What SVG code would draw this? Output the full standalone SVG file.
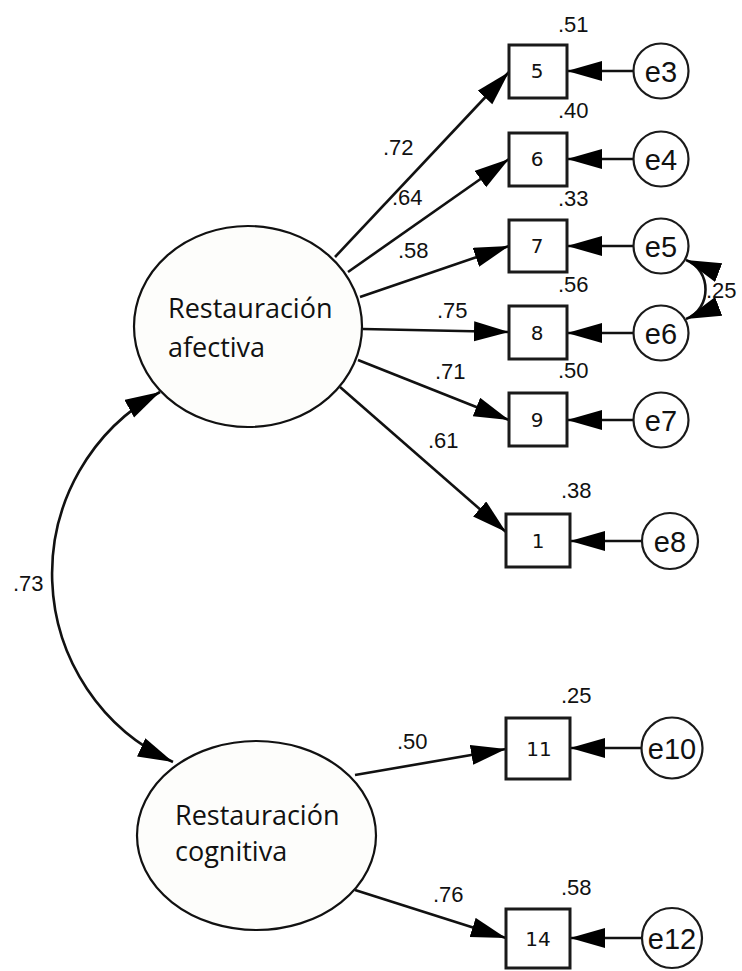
<svg xmlns="http://www.w3.org/2000/svg" width="742" height="971" viewBox="0 0 742 971">
  <style>
    .lat { fill: #fdfdfb; stroke: #111; stroke-width: 2.2; }
    .obs { fill: #fff; stroke: #1a1a1a; stroke-width: 3; }
    .err { fill: #fff; stroke: #1a1a1a; stroke-width: 2.2; }
    .path { fill: none; stroke: #111; stroke-width: 2.6; }
    .one { marker-end: url(#ah); }
    .two { marker-start: url(#ah2); marker-end: url(#ah2); }
    text { fill: #111; }
    .t-lat { font-family: "Open Sans", "Noto Sans", sans-serif; font-size: 27px; }
    .t-obs { font-family: "DejaVu Sans", Verdana, sans-serif; font-size: 20px; text-anchor: middle; }
    .t-err { font-family: "Liberation Sans", Arial, sans-serif; font-size: 29px; text-anchor: middle; }
    .t-num { font-family: "Liberation Sans", Arial, sans-serif; font-size: 22px; }
  </style>
  <defs>
    <marker id="ah" markerUnits="userSpaceOnUse" markerWidth="36" markerHeight="22" refX="35" refY="10" orient="auto">
      <path d="M0,0 L35,10 L0,20 z" fill="#000"/>
    </marker>
    <marker id="ah2" markerUnits="userSpaceOnUse" markerWidth="36" markerHeight="22" refX="35" refY="10" orient="auto-start-reverse">
      <path d="M0,0 L35,10 L0,20 z" fill="#000"/>
    </marker>
  </defs>

  <!-- paths, loadings and covariances -->
  <g id="connectors">
    <path class="path one" d="M335,257 L509,72"/>
    <path class="path one" d="M348,272 L509,159"/>
    <path class="path one" d="M360,297 L509,246"/>
    <path class="path one" d="M363,329 L509,332"/>
    <path class="path one" d="M358,360 L509,420"/>
    <path class="path one" d="M340,387 L506,532"/>
    <path class="path one" d="M355,775 L506,749"/>
    <path class="path one" d="M355,890 L506,938"/>

    <path class="path one" d="M633.5,71 L567,71"/>
    <path class="path one" d="M633.5,159 L567,159"/>
    <path class="path one" d="M633.5,246 L567,246"/>
    <path class="path one" d="M633.5,333 L567,333"/>
    <path class="path one" d="M633.5,420 L567,420"/>
    <path class="path one" d="M642,541 L570,541"/>
    <path class="path one" d="M641.5,748 L570,748"/>
    <path class="path one" d="M642,938 L570,938"/>

    <path class="path two" d="M160,392 A207,207 0 0 0 173,762"/>
    <path class="path two" d="M686,260 C712,270 712,309 686,319"/>

    <text class="t-num" x="383" y="155">.72</text>
    <text class="t-num" x="392" y="205">.64</text>
    <text class="t-num" x="398" y="258">.58</text>
    <text class="t-num" x="437" y="318">.75</text>
    <text class="t-num" x="435" y="379">.71</text>
    <text class="t-num" x="428" y="448">.61</text>
    <text class="t-num" x="397" y="749">.50</text>
    <text class="t-num" x="433" y="902">.76</text>
    <text class="t-num" x="13" y="591">.73</text>
    <text class="t-num" x="706" y="298">.25</text>
  </g>

  <!-- latent factors -->
  <g id="afectiva">
    <ellipse class="lat" cx="248" cy="326.5" rx="114" ry="100.5"/>
    <text class="t-lat" x="168" y="318">Restauración</text>
    <text class="t-lat" x="168" y="357">afectiva</text>
  </g>
  <g id="cognitiva">
    <ellipse class="lat" cx="256.5" cy="835.5" rx="119.5" ry="94.5"/>
    <text class="t-lat" x="175" y="825">Restauración</text>
    <text class="t-lat" x="175" y="861">cognitiva</text>
  </g>

  <!-- observed items with squared multiple correlations -->
  <g id="item5">
    <rect class="obs" x="509" y="45" width="58" height="53"/>
    <text class="t-obs" x="537" y="78">5</text>
    <text class="t-num" x="558" y="32">.51</text>
  </g>
  <g id="item6">
    <rect class="obs" x="509" y="133" width="58" height="53"/>
    <text class="t-obs" x="537" y="166">6</text>
    <text class="t-num" x="558" y="118">.40</text>
  </g>
  <g id="item7">
    <rect class="obs" x="509" y="220" width="58" height="52"/>
    <text class="t-obs" x="537" y="253">7</text>
    <text class="t-num" x="558" y="206">.33</text>
  </g>
  <g id="item8">
    <rect class="obs" x="509" y="306" width="58" height="53"/>
    <text class="t-obs" x="537" y="340">8</text>
    <text class="t-num" x="558" y="292">.56</text>
  </g>
  <g id="item9">
    <rect class="obs" x="509" y="393" width="58" height="53"/>
    <text class="t-obs" x="537" y="427">9</text>
    <text class="t-num" x="558" y="378">.50</text>
  </g>
  <g id="item1">
    <rect class="obs" x="506" y="514" width="64" height="53"/>
    <text class="t-obs" x="538" y="548">1</text>
    <text class="t-num" x="561" y="498">.38</text>
  </g>
  <g id="item11">
    <rect class="obs" x="506" y="718" width="64" height="61"/>
    <text class="t-obs" x="539" y="756">11</text>
    <text class="t-num" x="561" y="703">.25</text>
  </g>
  <g id="item14">
    <rect class="obs" x="506" y="909" width="64" height="59"/>
    <text class="t-obs" x="538" y="946">14</text>
    <text class="t-num" x="561" y="895">.58</text>
  </g>

  <!-- residual terms -->
  <g id="e3"><circle class="err" cx="661" cy="71" r="27.5"/><text class="t-err" x="661" y="81.5">e3</text></g>
  <g id="e4"><circle class="err" cx="661" cy="159" r="27.5"/><text class="t-err" x="661" y="169.5">e4</text></g>
  <g id="e5"><circle class="err" cx="661" cy="246" r="27.5"/><text class="t-err" x="661" y="256.5">e5</text></g>
  <g id="e6"><circle class="err" cx="661" cy="333" r="27.5"/><text class="t-err" x="661" y="343.5">e6</text></g>
  <g id="e7"><circle class="err" cx="661" cy="420" r="27.5"/><text class="t-err" x="661" y="430.5">e7</text></g>
  <g id="e8"><circle class="err" cx="670" cy="541" r="28"/><text class="t-err" x="670" y="551.5">e8</text></g>
  <g id="e10"><circle class="err" cx="672" cy="748" r="30.5"/><text class="t-err" x="672" y="758.5">e10</text></g>
  <g id="e12"><circle class="err" cx="672" cy="938" r="30"/><text class="t-err" x="672" y="948.5">e12</text></g>
</svg>
